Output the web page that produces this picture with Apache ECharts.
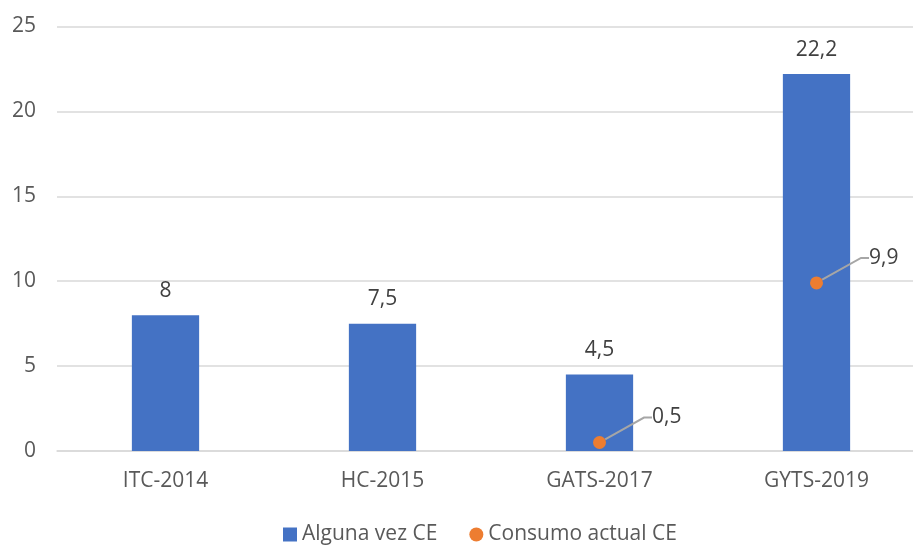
<!DOCTYPE html>
<html>
<head>
<meta charset="utf-8">
<script src="https://cdn.jsdelivr.net/npm/echarts@6/dist/echarts.min.js"></script>
<style>html,body{margin:0;padding:0;background:#fff;}#c{width:913px;height:546px;}</style>
</head>
<body>
<div id="c"></div>
<script>
var categories = ['ITC-2014', 'HC-2015', 'GATS-2017', 'GYTS-2019'];
var algunaVez = [8, 7.5, 4.5, 22.2];
var consumoActual = [null, null, 0.5, 9.9];
var yTicks = [0, 5, 10, 15, 20, 25];

var fmt = function (v) { return String(v).replace('.', ','); };
var txt = '#595959';
var font = '"Open Sans", "Noto Sans", sans-serif';
var fs = 21;

var chart = echarts.init(document.getElementById('c'));
chart.setOption({
  animation: false,
  textStyle: { fontFamily: font },
  grid: { left: 57, width: 868, top: 26.5, height: 424.5, containLabel: false, outerBoundsMode: 'none' },
  legend: {
    top: 519, left: 278,
    itemWidth: 14, itemHeight: 14, itemGap: 32,
    textStyle: { fontSize: fs, color: txt, fontFamily: font },
    data: [
      { name: 'Alguna vez CE', icon: 'rect' },
      { name: 'Consumo actual CE', icon: 'circle' }
    ]
  },
  xAxis: {
    type: 'category',
    data: categories,
    axisLine: { lineStyle: { color: '#d9d9d9', width: 1.5 } },
    axisTick: { show: false },
    axisLabel: { color: txt, fontSize: fs, margin: 20, fontFamily: font }
  },
  yAxis: {
    type: 'value',
    min: yTicks[0], max: yTicks[yTicks.length - 1], interval: 5,
    axisLine: { show: false },
    axisTick: { show: false },
    splitLine: { lineStyle: { color: '#d9d9d9', width: 1.5 } },
    axisLabel: { color: txt, fontSize: fs, margin: 21, fontFamily: font }
  },
  series: [
    {
      name: 'Alguna vez CE',
      type: 'bar',
      data: algunaVez,
      barWidth: '31%',
      itemStyle: { color: '#4472C4' },
      label: {
        show: true, position: 'top', distance: 14,
        color: '#404040', fontSize: fs, fontFamily: font,
        formatter: function (p) { return fmt(p.value); }
      }
    },
    {
      name: 'Consumo actual CE',
      type: 'scatter',
      data: consumoActual,
      symbol: 'circle',
      symbolSize: 13,
      itemStyle: { color: '#ED7D31', opacity: 1 },
      z: 5,
      label: {
        show: true, position: 'right', distance: 0,
        color: '#404040', fontSize: fs, fontFamily: font, opacity: 1,
        formatter: function (p) { return fmt(p.value); }
      },
      labelLayout: { dx: 46, dy: -25 },
      labelLine: {
        show: true, length2: 8,
        lineStyle: { color: '#a6a6a6', width: 2, opacity: 1 }
      }
    }
  ]
});
</script>
</body>
</html>
